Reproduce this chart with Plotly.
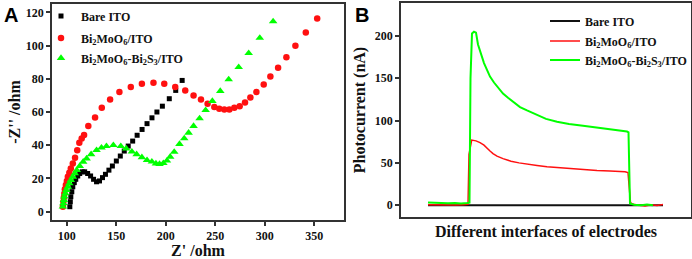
import plotly.graph_objects as go

# ---------------- Panel A: Nyquist plots ----------------
bare_zre = [103, 103.5, 104, 105, 106, 107.5, 109, 111, 113, 115.5, 118, 121, 124, 127, 130, 133, 136, 139,
            142.5, 146, 150, 154, 158, 162, 166.5, 171, 176, 181, 186, 191, 196.5, 203.5, 210, 216.5]
bare_zim = [3, 6, 9, 12, 15, 17.5, 19.5, 21.5, 23, 24, 24, 23, 21.5, 19.5, 18, 18.5, 20.5, 22.5,
            25, 27.5, 30.5, 33.5, 36.5, 39.5, 42.5, 46, 49.5, 53, 56.5, 60, 63.5, 68, 73, 79]

bmo_zre = [96, 96.5, 97, 97.5, 98, 99, 100, 101, 102.5, 104, 106, 108.3, 110.5, 112.6, 115, 117.4, 121.7,
           128.5, 135.3, 143.7, 153.1, 164.6, 175.8, 187.5, 198.4, 209.5, 219.6, 228, 235.5, 242.2, 249,
           254, 259.1, 264.2, 269.2, 274.6, 280, 285.4, 291.5, 298.9, 305.6, 313.4, 321.8, 330.9, 341.4, 352.9]
bmo_zim = [3, 6, 8.5, 11, 13.5, 16, 18.5, 21, 23.5, 26, 29, 32.5, 37, 41.5, 44, 46.1, 51.5,
           56.7, 62.5, 67.5, 72, 75, 77, 77.6, 77, 75, 73, 70, 67.5, 65, 63,
           61.9, 61.5, 61.5, 62.5, 63.5, 65.7, 68.7, 72, 76.5, 81.4, 86.6, 92.9, 99.9, 107.8, 116.2]

bmobs_zre = [96, 96.5, 97, 97.5, 98.5, 99.5, 101, 102.5, 104, 106, 108, 110, 113, 116.5, 120, 124.5, 130,
             135, 140, 147, 154.5, 160, 165.7, 170.5, 175.8, 181, 185.9, 190, 193.6, 197.5, 201.1, 204.4,
             208.5, 213.8, 218.6, 223, 228, 234.1, 240.2, 247, 255, 263.5, 273.6, 283.7, 294.9, 308.4]
bmobs_zim = [3, 5, 7, 9, 11, 13, 15, 17, 19, 21, 23, 25, 27.5, 30, 32, 34.5, 37,
             38.5, 39.4, 40, 39.4, 38, 36.1, 34.5, 32.7, 31, 30.1, 29, 28.7, 29.2, 30.7, 33,
             36, 40.7, 44.1, 47.5, 51.5, 56.1, 61.1, 66.6, 72.6, 79.6, 87, 95.4, 104.6, 114.5]

a_xticks = [100, 150, 200, 250, 300, 350]
a_yticks = [0, 20, 40, 60, 80, 100, 120]

# ---------------- Panel B: photocurrent ----------------
t_bare = [27, 262]
i_bare = [0, 0]

t_bmo = [27, 35, 45, 55, 62, 67, 68, 70.7, 75, 79, 83, 86, 89, 92, 96, 102, 110, 118, 128, 136, 146, 156,
         170, 182, 196, 209, 218, 224, 227, 229.5, 232, 238, 244, 250, 256, 262]
i_bmo = [0.5, 0.3, 0.8, 0.2, 0.6, 1, 60, 77, 76, 74, 71, 67, 64, 61, 58, 55, 52, 50, 48, 47, 45.5, 44.5,
         43, 42, 41, 40.5, 40, 39.5, 38.5, 3, 1, 0, -1, 0.5, -0.5, 0.8]

t_bmobs = [27, 33, 40, 47, 54, 60, 66, 68.5, 69.5, 71, 73, 75, 77, 80, 83, 86, 89, 93, 97, 102, 107, 112,
           119, 126, 135, 145, 156, 168, 182, 195, 208, 218, 226, 227.5, 229, 233, 240, 246, 252]
i_bmobs = [3, 2.5, 2.8, 2.2, 2.6, 2.0, 2.5, 3, 150, 203, 205, 204, 190, 178, 168, 160, 152, 145, 139, 132,
           127, 122, 116, 112, 107, 102, 98.5, 96, 94, 92, 90, 88.5, 87, 86, 2, 0.5, 0, 0.8, 0]

b_yticks = [0, 50, 100, 150, 200]

names = ["Bare ITO", "Bi<sub>2</sub>MoO<sub>6</sub>/ITO", "Bi<sub>2</sub>MoO<sub>6</sub>-Bi<sub>2</sub>S<sub>3</sub>/ITO"]

SERIF = "Times New Roman, Liberation Serif, serif"
AXC = "#333333"
RED = "#ff1010"
GREEN = "#00ff00"

W, H = 692, 259
def px(x):
    return x / W
def py(y):
    return 1 - y / H

fig = go.Figure()

a_markers = [dict(symbol="square", size=5, color="black"),
             dict(symbol="circle", size=6.5, color=RED),
             dict(symbol="triangle-up", size=7.5, color=GREEN)]
a_data = [(bare_zre, bare_zim), (bmo_zre, bmo_zim), (bmobs_zre, bmobs_zim)]
a_legends = ["legend", "legend3", "legend4"]
for (xs, ys), mk, nm, lg in zip(a_data, a_markers, names, a_legends):
    fig.add_trace(go.Scatter(x=xs, y=ys, mode="markers", name="<b>%s</b>" % nm, marker=mk,
                             xaxis="x", yaxis="y", legend=lg, showlegend=True))

b_lines = [dict(color="#111111", width=2), dict(color=RED, width=1.5), dict(color=GREEN, width=2)]
b_data = [(t_bare, i_bare), (t_bmo, i_bmo), (t_bmobs, i_bmobs)]
b_legends = ["legend2", "legend5", "legend6"]
for (xs, ys), ln, nm, lg in zip(b_data, b_lines, names, b_legends):
    fig.add_trace(go.Scatter(x=xs, y=ys, mode="lines", name="<b>%s</b>" % nm, line=ln,
                             xaxis="x2", yaxis="y2", legend=lg, showlegend=True))

tickfont = dict(family=SERIF, size=12, color="#111111", weight="bold")
titlefont = dict(family=SERIF, size=16, color="#111111", weight="bold")
common_axis = dict(showline=True, linecolor=AXC, linewidth=1.5, mirror=True, ticks="outside",
                   ticklen=4, tickwidth=1.5, tickcolor=AXC, showgrid=False, zeroline=False,
                   tickfont=tickfont, automargin=False)

legfont = dict(family=SERIF, size=12, color="#111111")
def leg(x, y):
    return dict(x=px(x), y=py(y), xanchor="left", yanchor="middle", bgcolor="rgba(0,0,0,0)",
                font=legfont, itemwidth=30, borderwidth=0)

fig.update_layout(
    width=W, height=H,
    showlegend=True,
    margin=dict(l=0, r=0, t=0, b=0),
    paper_bgcolor="white", plot_bgcolor="white",
    xaxis=dict(domain=[px(52), px(344)], range=[85, 380], tickvals=a_xticks, anchor="y",
               title=dict(text="Z' /ohm", font=titlefont, standoff=3), **common_axis),
    yaxis=dict(domain=[py(220), py(4)], range=[-5, 125], tickvals=a_yticks, anchor="x",
               title=dict(text="-Z'' /ohm", font=titlefont, standoff=1), **common_axis),
    xaxis2=dict(domain=[px(401), px(691)], range=[0, 290], anchor="y2", showline=True, linecolor=AXC,
                linewidth=1.5, mirror=True, ticks="", showticklabels=False, showgrid=False, zeroline=False,
                automargin=False,
                title=dict(text="Different interfaces of electrodes", font=titlefont, standoff=8)),
    yaxis2=dict(domain=[py(217), py(3)], range=[-14, 239], tickvals=b_yticks, anchor="x2",
                title=dict(text="Photocurrent (nA)", font=titlefont, standoff=5), **common_axis),
    legend=leg(41, 16),
    legend3=leg(41, 38),
    legend4=leg(41, 58),
    legend2=leg(545, 21),
    legend5=leg(545, 41),
    legend6=leg(545, 60),
    annotations=[
        dict(text="<b>A</b>", x=px(2), y=py(2), xref="paper", yref="paper", xanchor="left", yanchor="top",
             showarrow=False, font=dict(family="Liberation Sans, Arial, sans-serif", size=20, color="black")),
        dict(text="<b>B</b>", x=px(353), y=py(2), xref="paper", yref="paper", xanchor="left", yanchor="top",
             showarrow=False, font=dict(family="Liberation Sans, Arial, sans-serif", size=20, color="black")),
    ],
)

fig.write_html("out.html", config={"responsive": False, "displayModeBar": False},
               post_script="document.body.style.margin='0';document.body.style.overflow='hidden';")
